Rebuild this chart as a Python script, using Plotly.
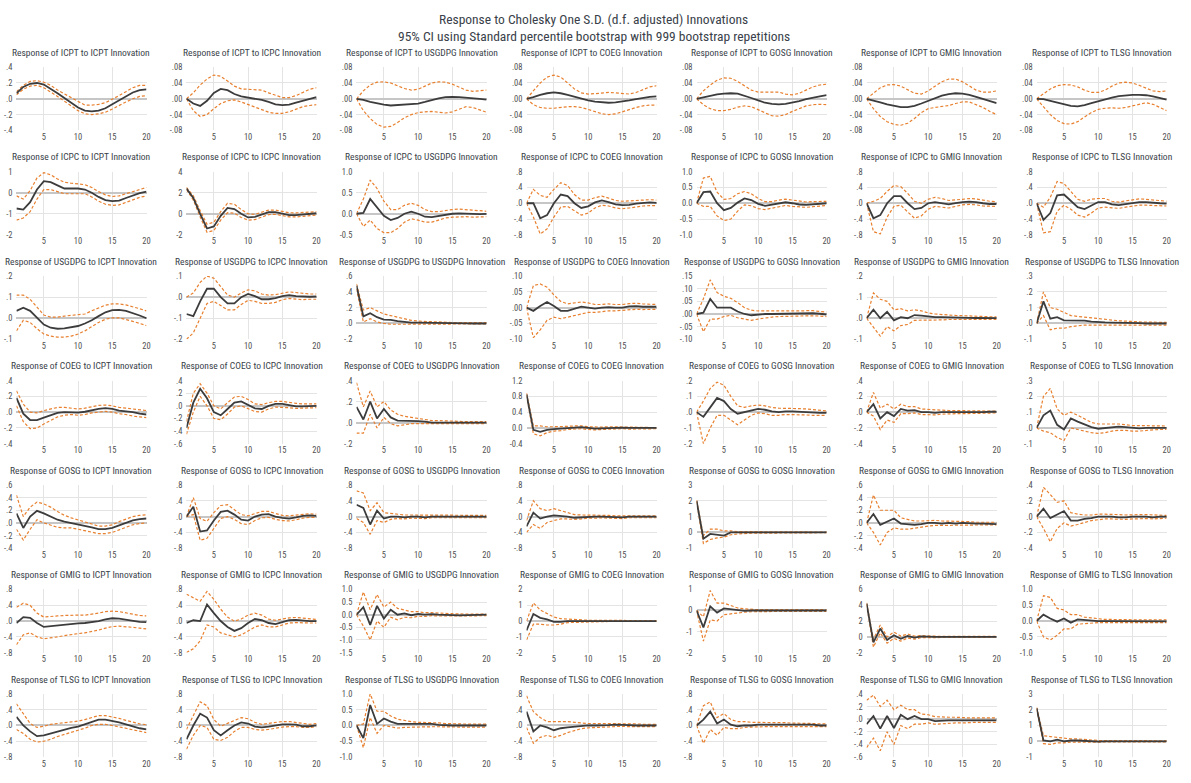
import plotly.graph_objects as go

W, H = 1191, 783
VARS = ["ICPT", "ICPC", "USGDPG", "COEG", "GOSG", "GMIG", "TLSG"]
PERIODS = list(range(1, 21))

# ---- Impulse responses (row = responding variable, one list per shock) ----
resp_ICPT = [
    [0.07, 0.15, 0.19, 0.20, 0.18, 0.13, 0.07, 0.01, -0.05, -0.11, -0.15, -0.16, -0.15, -0.12, -0.07, -0.02, 0.03, 0.08, 0.11, 0.12],
    [0, -0.012, -0.018, -0.005, 0.015, 0.025, 0.022, 0.012, 0.006, 0.003, 0.0, -0.003, -0.008, -0.014, -0.016, -0.015, -0.01, -0.005, -0.001, 0.004],
    [0, -0.003, -0.008, -0.012, -0.015, -0.017, -0.016, -0.015, -0.014, -0.012, -0.008, -0.003, 0.001, 0.004, 0.005, 0.004, 0.003, 0.002, 0.0, -0.002],
    [0, 0.004, 0.01, 0.014, 0.016, 0.014, 0.01, 0.005, 0.0, -0.004, -0.007, -0.009, -0.01, -0.009, -0.007, -0.004, -0.001, 0.002, 0.005, 0.006],
    [0, 0.004, 0.008, 0.011, 0.013, 0.014, 0.013, 0.008, 0.002, -0.004, -0.01, -0.013, -0.014, -0.013, -0.01, -0.006, -0.001, 0.003, 0.006, 0.009],
    [0, -0.004, -0.009, -0.014, -0.018, -0.021, -0.021, -0.018, -0.012, -0.005, 0.002, 0.008, 0.012, 0.014, 0.013, 0.01, 0.005, 0.0, -0.006, -0.011],
    [0, -0.001, -0.005, -0.01, -0.015, -0.018, -0.019, -0.016, -0.011, -0.006, -0.001, 0.003, 0.007, 0.009, 0.01, 0.01, 0.009, 0.006, 0.002, -0.002],
]
upper_ICPT = [
    [0.09, 0.17, 0.22, 0.23, 0.21, 0.17, 0.11, 0.06, 0.01, -0.04, -0.08, -0.08, -0.07, -0.05, -0.01, 0.04, 0.09, 0.14, 0.17, 0.17],
    [0, 0.015, 0.035, 0.05, 0.06, 0.057, 0.045, 0.032, 0.025, 0.024, 0.024, 0.022, 0.015, 0.008, 0.003, 0.003, 0.008, 0.016, 0.024, 0.028],
    [0, 0.02, 0.035, 0.042, 0.043, 0.04, 0.033, 0.026, 0.022, 0.024, 0.032, 0.04, 0.043, 0.042, 0.037, 0.029, 0.022, 0.019, 0.02, 0.022],
    [0, 0.02, 0.04, 0.055, 0.06, 0.055, 0.04, 0.025, 0.015, 0.012, 0.013, 0.015, 0.016, 0.015, 0.013, 0.012, 0.016, 0.024, 0.03, 0.033],
    [0, 0.02, 0.035, 0.047, 0.053, 0.052, 0.044, 0.032, 0.022, 0.017, 0.017, 0.018, 0.017, 0.012, 0.01, 0.014, 0.022, 0.03, 0.035, 0.037],
    [0, 0.015, 0.028, 0.035, 0.036, 0.032, 0.023, 0.014, 0.012, 0.02, 0.032, 0.043, 0.05, 0.05, 0.043, 0.032, 0.022, 0.017, 0.017, 0.02],
    [0, 0.012, 0.025, 0.033, 0.036, 0.035, 0.03, 0.022, 0.016, 0.016, 0.022, 0.032, 0.04, 0.042, 0.04, 0.034, 0.026, 0.02, 0.018, 0.02],
]
lower_ICPT = [
    [0.05, 0.12, 0.16, 0.17, 0.14, 0.09, 0.03, -0.03, -0.09, -0.15, -0.19, -0.20, -0.19, -0.17, -0.13, -0.08, -0.04, 0.0, 0.03, 0.04],
    [0, -0.03, -0.045, -0.04, -0.025, -0.012, -0.005, -0.003, -0.008, -0.015, -0.022, -0.028, -0.034, -0.037, -0.037, -0.033, -0.026, -0.02, -0.017, -0.015],
    [0, -0.03, -0.05, -0.065, -0.072, -0.07, -0.06, -0.048, -0.04, -0.035, -0.033, -0.032, -0.034, -0.036, -0.033, -0.026, -0.02, -0.022, -0.028, -0.034],
    [0, -0.015, -0.022, -0.024, -0.024, -0.022, -0.02, -0.02, -0.022, -0.027, -0.033, -0.038, -0.04, -0.038, -0.033, -0.027, -0.022, -0.018, -0.016, -0.016],
    [0, -0.015, -0.025, -0.03, -0.03, -0.027, -0.021, -0.018, -0.02, -0.027, -0.036, -0.043, -0.044, -0.04, -0.032, -0.025, -0.018, -0.015, -0.014, -0.015],
    [0, -0.025, -0.045, -0.058, -0.065, -0.067, -0.062, -0.05, -0.035, -0.025, -0.022, -0.02, -0.017, -0.012, -0.008, -0.008, -0.014, -0.022, -0.032, -0.04],
    [0, -0.02, -0.04, -0.055, -0.063, -0.064, -0.058, -0.046, -0.035, -0.027, -0.024, -0.023, -0.024, -0.022, -0.018, -0.013, -0.01, -0.014, -0.022, -0.03],
]
yticks_ICPT = [
    ["-.4", "-.2", ".0", ".2", ".4"],
    ["-.08", "-.04", ".00", ".04", ".08"],
    ["-.08", "-.04", ".00", ".04", ".08"],
    ["-.08", "-.04", ".00", ".04", ".08"],
    ["-.08", "-.04", ".00", ".04", ".08"],
    ["-.08", "-.04", ".00", ".04", ".08"],
    ["-.08", "-.04", ".00", ".04", ".08"],
]

resp_ICPC = [
    [-0.75, -0.8, -0.45, 0.15, 0.55, 0.5, 0.35, 0.2, 0.2, 0.2, 0.15, 0.0, -0.2, -0.35, -0.4, -0.38, -0.25, -0.12, -0.02, 0.05],
    [2.4, 1.5, 0.0, -1.4, -1.2, -0.2, 0.55, 0.45, 0.0, -0.35, -0.3, -0.05, 0.15, 0.15, 0.0, -0.12, -0.12, -0.05, 0.02, 0.05],
    [0, 0.02, 0.35, 0.15, -0.05, -0.15, -0.1, 0.0, 0.05, 0.0, -0.07, -0.08, -0.05, -0.02, 0.0, 0.01, 0.0, -0.01, -0.01, -0.005],
    [0, 0.0, -0.38, -0.3, 0.0, 0.22, 0.18, 0.0, -0.12, -0.08, 0.02, 0.07, 0.03, -0.03, -0.05, -0.04, -0.01, 0.01, 0.02, 0.01],
    [0, 0.35, 0.37, 0.0, -0.22, -0.15, 0.02, 0.15, 0.1, -0.02, -0.08, -0.05, 0.0, 0.03, 0.0, -0.04, -0.05, -0.03, -0.01, 0.0],
    [0, -0.38, -0.3, 0.0, 0.18, 0.18, 0.0, -0.15, -0.12, 0.0, 0.03, 0.0, -0.03, 0.0, 0.03, 0.04, 0.03, 0.0, -0.02, -0.02],
    [0, -0.42, -0.25, 0.2, 0.22, 0.05, -0.1, -0.15, -0.05, 0.03, 0.03, -0.03, -0.05, -0.02, 0.01, 0.03, 0.03, 0.01, 0.0, -0.01],
]
upper_ICPC = [
    [-0.15, -0.3, 0.1, 0.7, 0.95, 0.85, 0.65, 0.5, 0.45, 0.42, 0.38, 0.25, 0.05, -0.1, -0.18, -0.15, -0.05, 0.08, 0.18, 0.25],
    [2.5, 1.7, 0.3, -1.0, -0.8, 0.2, 1.0, 0.9, 0.4, 0.0, -0.05, 0.15, 0.35, 0.35, 0.2, 0.1, 0.08, 0.12, 0.18, 0.2],
    [0, 0.35, 0.8, 0.6, 0.3, 0.1, 0.1, 0.2, 0.25, 0.2, 0.1, 0.05, 0.05, 0.08, 0.1, 0.11, 0.1, 0.08, 0.07, 0.06],
    [0, 0.35, 0.2, 0.15, 0.35, 0.52, 0.45, 0.22, 0.08, 0.08, 0.14, 0.18, 0.13, 0.07, 0.05, 0.06, 0.08, 0.09, 0.09, 0.08],
    [0, 0.8, 0.85, 0.35, 0.12, 0.15, 0.3, 0.37, 0.3, 0.15, 0.05, 0.05, 0.1, 0.13, 0.1, 0.06, 0.04, 0.05, 0.06, 0.06],
    [0, 0.05, 0.12, 0.3, 0.45, 0.42, 0.25, 0.05, 0.0, 0.1, 0.15, 0.12, 0.07, 0.08, 0.1, 0.12, 0.11, 0.08, 0.05, 0.04],
    [0, -0.1, 0.15, 0.55, 0.5, 0.3, 0.1, 0.05, 0.1, 0.12, 0.12, 0.05, 0.03, 0.06, 0.09, 0.11, 0.1, 0.08, 0.06, 0.05],
]
lower_ICPC = [
    [-1.3, -1.2, -0.9, -0.3, 0.15, 0.15, 0.05, -0.05, -0.05, -0.05, -0.05, -0.2, -0.4, -0.55, -0.6, -0.58, -0.45, -0.32, -0.22, -0.15],
    [2.3, 1.3, -0.3, -1.75, -1.6, -0.6, 0.1, 0.05, -0.35, -0.6, -0.55, -0.3, -0.08, -0.05, -0.2, -0.3, -0.3, -0.22, -0.15, -0.12],
    [0, -0.3, -0.15, -0.35, -0.45, -0.45, -0.35, -0.2, -0.12, -0.15, -0.2, -0.2, -0.15, -0.1, -0.08, -0.07, -0.07, -0.08, -0.08, -0.07],
    [0, -0.35, -0.78, -0.65, -0.35, -0.1, -0.08, -0.2, -0.3, -0.25, -0.12, -0.05, -0.07, -0.12, -0.14, -0.12, -0.09, -0.07, -0.06, -0.06],
    [0, -0.1, -0.1, -0.4, -0.55, -0.5, -0.25, -0.05, -0.08, -0.17, -0.2, -0.16, -0.1, -0.07, -0.1, -0.12, -0.13, -0.11, -0.09, -0.07],
    [0, -0.72, -0.78, -0.35, -0.08, -0.05, -0.22, -0.38, -0.32, -0.15, -0.08, -0.1, -0.12, -0.08, -0.04, -0.03, -0.04, -0.07, -0.08, -0.08],
    [0, -0.75, -0.72, -0.2, -0.05, -0.15, -0.3, -0.35, -0.25, -0.12, -0.1, -0.12, -0.13, -0.1, -0.07, -0.05, -0.05, -0.06, -0.07, -0.07],
]
yticks_ICPC = [
    ["-2", "-1", "0", "1"],
    ["-2", "0", "2", "4"],
    ["-0.5", "0.0", "0.5", "1.0"],
    ["-.8", "-.4", ".0", ".4", ".8"],
    ["-1.0", "-0.5", "0.0", "0.5", "1.0"],
    ["-.8", "-.4", ".0", ".4", ".8"],
    ["-.8", "-.4", ".0", ".4", ".8"],
]

resp_USGDPG = [
    [0.035, 0.05, 0.035, 0.0, -0.03, -0.045, -0.05, -0.048, -0.043, -0.037, -0.025, -0.01, 0.01, 0.028, 0.038, 0.04, 0.035, 0.025, 0.013, 0.0],
    [-0.08, -0.09, -0.02, 0.04, 0.04, 0.0, -0.03, -0.03, 0.0, 0.015, 0.005, -0.01, -0.01, -0.005, 0.005, 0.01, 0.005, 0.002, 0.002, 0.003],
    [0.48, 0.09, 0.13, 0.08, 0.05, 0.045, 0.03, 0.02, 0.01, 0.01, 0.01, 0.008, 0.005, 0.003, 0.002, 0.002, 0.001, 0.0, 0.0, 0.0],
    [0.0, -0.01, 0.005, 0.018, 0.005, -0.01, -0.01, -0.003, 0.003, 0.0, -0.003, 0.0, 0.002, 0.0, 0.0, 0.004, 0.005, 0.003, 0.003, 0.003],
    [0.0, 0.005, 0.06, 0.025, 0.025, 0.025, 0.01, 0.0, -0.005, -0.002, 0.0, 0.0, 0.001, 0.0, 0.0, 0.002, 0.003, 0.003, 0.001, -0.002],
    [0.0, 0.04, 0.0, 0.03, -0.01, 0.005, 0.0, 0.015, 0.012, 0.008, 0.005, 0.005, 0.005, 0.003, 0.003, 0.002, 0.001, 0.0, 0.0, 0.0],
    [0.0, 0.14, 0.03, 0.04, 0.02, 0.02, 0.02, 0.018, 0.012, 0.008, 0.007, 0.006, 0.006, 0.005, 0.004, 0.002, 0.0, 0.0, 0.0, 0.0],
]
upper_USGDPG = [
    [0.11, 0.11, 0.09, 0.05, 0.015, 0.005, 0.005, 0.01, 0.013, 0.015, 0.02, 0.035, 0.05, 0.062, 0.068, 0.068, 0.063, 0.055, 0.045, 0.035],
    [0.0, 0.02, 0.07, 0.1, 0.09, 0.05, 0.01, 0.0, 0.02, 0.035, 0.03, 0.015, 0.01, 0.012, 0.02, 0.025, 0.022, 0.018, 0.015, 0.015],
    [0.5, 0.17, 0.2, 0.16, 0.12, 0.1, 0.08, 0.06, 0.04, 0.03, 0.025, 0.02, 0.018, 0.015, 0.012, 0.01, 0.01, 0.01, 0.01, 0.01],
    [0.0, 0.07, 0.075, 0.065, 0.04, 0.02, 0.012, 0.015, 0.018, 0.015, 0.01, 0.01, 0.012, 0.01, 0.01, 0.013, 0.014, 0.012, 0.011, 0.01],
    [0.0, 0.06, 0.135, 0.085, 0.07, 0.062, 0.045, 0.025, 0.015, 0.012, 0.012, 0.012, 0.012, 0.01, 0.01, 0.012, 0.013, 0.013, 0.01, 0.008],
    [0.0, 0.12, 0.09, 0.08, 0.04, 0.045, 0.035, 0.04, 0.035, 0.025, 0.02, 0.017, 0.015, 0.013, 0.012, 0.01, 0.008, 0.007, 0.007, 0.007],
    [0.0, 0.2, 0.1, 0.09, 0.07, 0.05, 0.045, 0.04, 0.033, 0.03, 0.025, 0.02, 0.017, 0.015, 0.012, 0.01, 0.008, 0.008, 0.007, 0.007],
]
lower_USGDPG = [
    [-0.06, -0.01, -0.02, -0.05, -0.075, -0.085, -0.09, -0.09, -0.085, -0.075, -0.06, -0.04, -0.02, -0.005, 0.002, 0.002, -0.005, -0.015, -0.025, -0.035],
    [-0.2, -0.17, -0.1, -0.03, -0.02, -0.04, -0.06, -0.06, -0.035, -0.015, -0.02, -0.03, -0.03, -0.025, -0.012, -0.006, -0.01, -0.012, -0.01, -0.01],
    [0.44, 0.02, 0.06, 0.02, 0.0, -0.01, -0.01, -0.01, -0.01, -0.008, -0.006, -0.005, -0.005, -0.005, -0.005, -0.005, -0.005, -0.005, -0.005, -0.005],
    [0.0, -0.095, -0.07, -0.04, -0.03, -0.035, -0.03, -0.025, -0.018, -0.015, -0.015, -0.012, -0.01, -0.01, -0.008, -0.005, -0.005, -0.006, -0.006, -0.005],
    [0.0, -0.07, -0.02, -0.02, -0.01, -0.005, -0.015, -0.02, -0.025, -0.02, -0.015, -0.012, -0.01, -0.01, -0.01, -0.008, -0.007, -0.007, -0.008, -0.01],
    [0.0, -0.04, -0.085, -0.04, -0.06, -0.035, -0.03, -0.01, -0.01, -0.01, -0.01, -0.008, -0.006, -0.006, -0.006, -0.006, -0.006, -0.006, -0.006, -0.006],
    [0.0, 0.05, -0.04, -0.03, -0.03, -0.02, -0.015, -0.01, -0.01, -0.01, -0.01, -0.01, -0.01, -0.01, -0.01, -0.012, -0.012, -0.012, -0.01, -0.01],
]
yticks_USGDPG = [
    ["-.1", ".0", ".1", ".2"],
    ["-.2", "-.1", ".0", ".1"],
    ["-.2", ".0", ".2", ".4", ".6"],
    ["-.10", "-.05", ".00", ".05", ".10"],
    ["-.10", "-.05", ".00", ".05", ".10", ".15"],
    ["-.1", ".0", ".1", ".2"],
    ["-.1", ".0", ".1", ".2", ".3"],
]

resp_COEG = [
    [0.18, -0.02, -0.1, -0.1, -0.07, -0.04, -0.01, 0.0, 0.0, -0.005, 0.005, 0.025, 0.04, 0.05, 0.04, 0.02, 0.01, 0.0, -0.02, -0.03],
    [-0.35, 0.05, 0.27, 0.12, -0.1, -0.15, -0.05, 0.05, 0.07, 0.02, -0.04, -0.05, 0.0, 0.03, 0.03, 0.01, -0.01, -0.01, 0.0, 0.0],
    [0.15, 0.03, 0.2, 0.04, 0.13, 0.05, 0.02, 0.02, 0.02, 0.015, 0.01, 0.0, 0.0, 0.0, 0.0, 0.0, 0.0, 0.0, 0.0, 0.0],
    [0.85, -0.05, -0.1, -0.05, -0.03, -0.02, 0.0, 0.01, 0.02, 0.0, -0.02, -0.01, 0.0, 0.01, 0.01, 0.0, -0.005, 0.0, 0.0, 0.0],
    [0.0, -0.03, 0.03, 0.09, 0.07, 0.02, -0.01, 0.0, 0.01, 0.02, 0.015, 0.005, 0.0, 0.005, 0.005, 0.002, 0.0, 0.0, -0.005, -0.005],
    [0.0, 0.1, -0.08, 0.0, -0.05, 0.04, 0.02, 0.025, 0.0, 0.0, -0.01, 0.0, 0.0, 0.0, 0.0, 0.0, -0.005, 0.0, 0.005, 0.005],
    [0.0, 0.08, 0.11, 0.02, -0.01, 0.06, 0.04, 0.02, 0.005, -0.005, 0.0, 0.005, 0.008, 0.005, 0.0, -0.003, 0.0, 0.0, 0.0, 0.0],
]
upper_COEG = [
    [0.27, 0.1, 0.0, -0.01, 0.02, 0.04, 0.06, 0.06, 0.05, 0.04, 0.05, 0.07, 0.085, 0.09, 0.08, 0.06, 0.05, 0.04, 0.03, 0.02],
    [-0.25, 0.2, 0.35, 0.2, 0.0, -0.05, 0.05, 0.14, 0.15, 0.1, 0.03, 0.02, 0.05, 0.07, 0.07, 0.05, 0.04, 0.03, 0.03, 0.03],
    [0.38, 0.15, 0.3, 0.15, 0.2, 0.12, 0.08, 0.06, 0.05, 0.04, 0.03, 0.02, 0.02, 0.015, 0.015, 0.012, 0.01, 0.01, 0.01, 0.01],
    [0.88, 0.05, 0.05, 0.03, 0.03, 0.03, 0.04, 0.05, 0.05, 0.03, 0.02, 0.02, 0.03, 0.03, 0.03, 0.02, 0.015, 0.015, 0.01, 0.01],
    [0.0, 0.07, 0.15, 0.19, 0.17, 0.1, 0.04, 0.03, 0.04, 0.045, 0.04, 0.03, 0.025, 0.025, 0.025, 0.022, 0.02, 0.015, 0.01, 0.008],
    [0.0, 0.25, 0.05, 0.1, 0.04, 0.1, 0.07, 0.07, 0.04, 0.035, 0.025, 0.025, 0.02, 0.02, 0.018, 0.015, 0.012, 0.012, 0.012, 0.012],
    [0.0, 0.2, 0.25, 0.12, 0.08, 0.1, 0.08, 0.06, 0.035, 0.025, 0.025, 0.025, 0.025, 0.02, 0.015, 0.015, 0.015, 0.015, 0.012, 0.012],
]
lower_COEG = [
    [0.08, -0.12, -0.21, -0.2, -0.15, -0.1, -0.06, -0.04, -0.03, -0.04, -0.03, -0.01, 0.0, 0.01, 0.0, -0.02, -0.03, -0.05, -0.06, -0.07],
    [-0.45, -0.1, 0.15, 0.0, -0.2, -0.22, -0.13, -0.02, 0.0, -0.04, -0.09, -0.1, -0.05, -0.02, -0.02, -0.03, -0.04, -0.04, -0.03, -0.03],
    [-0.1, -0.1, 0.08, -0.05, 0.05, -0.01, -0.03, -0.02, -0.01, -0.01, -0.01, -0.01, -0.01, -0.01, -0.01, -0.01, -0.01, -0.01, -0.01, -0.01],
    [0.82, -0.15, -0.2, -0.12, -0.08, -0.07, -0.04, -0.03, -0.02, -0.04, -0.05, -0.04, -0.03, -0.02, -0.02, -0.03, -0.03, -0.02, -0.02, -0.02],
    [0.0, -0.2, -0.1, -0.02, -0.02, -0.05, -0.08, -0.05, -0.02, -0.005, -0.01, -0.02, -0.02, -0.015, -0.015, -0.015, -0.018, -0.02, -0.02, -0.02],
    [0.0, -0.05, -0.22, -0.1, -0.13, -0.02, -0.02, -0.01, -0.03, -0.03, -0.035, -0.025, -0.02, -0.02, -0.02, -0.018, -0.02, -0.015, -0.01, -0.01],
    [0.0, -0.02, -0.03, -0.06, -0.08, 0.0, -0.01, -0.02, -0.03, -0.035, -0.03, -0.02, -0.015, -0.015, -0.02, -0.02, -0.015, -0.012, -0.01, -0.01],
]
yticks_COEG = [
    ["-.4", "-.2", ".0", ".2", ".4"],
    ["-.6", "-.4", "-.2", ".0", ".2", ".4"],
    ["-.2", ".0", ".2", ".4"],
    ["-0.4", "0.0", "0.4", "0.8", "1.2"],
    ["-.2", "-.1", ".0", ".1", ".2"],
    ["-.4", "-.2", ".0", ".2", ".4"],
    ["-.1", ".0", ".1", ".2", ".3"],
]

resp_GOSG = [
    [0.15, -0.08, 0.1, 0.19, 0.15, 0.1, 0.05, 0.02, 0.0, -0.02, -0.04, -0.07, -0.1, -0.1, -0.08, -0.04, 0.0, 0.04, 0.06, 0.07],
    [0.0, 0.25, -0.38, -0.35, -0.1, 0.12, 0.15, 0.05, -0.08, -0.1, 0.0, 0.05, 0.06, 0.0, -0.03, -0.05, -0.02, 0.02, 0.03, 0.02],
    [0.3, 0.22, -0.2, 0.15, -0.05, 0.0, 0.0, -0.02, 0.0, 0.0, -0.02, 0.0, 0.0, 0.0, 0.0, 0.0, 0.0, 0.0, 0.0, 0.0],
    [-0.25, 0.1, -0.05, 0.0, 0.03, 0.02, 0.0, -0.03, -0.02, 0.0, 0.0, 0.0, -0.01, -0.02, -0.02, 0.0, 0.0, 0.0, 0.0, 0.0],
    [2.0, -0.4, -0.1, -0.15, -0.2, 0.0, -0.02, 0.0, 0.0, 0.0, -0.02, 0.0, 0.0, 0.0, 0.0, 0.0, 0.0, 0.0, 0.0, 0.0],
    [0.0, 0.14, -0.03, 0.02, 0.07, -0.01, -0.02, -0.03, -0.02, 0.0, 0.0, -0.01, 0.0, -0.01, 0.0, -0.01, -0.01, -0.01, -0.01, -0.02],
    [0.0, 0.1, -0.02, 0.03, 0.07, -0.05, -0.05, -0.03, -0.02, 0.0, 0.0, 0.0, -0.01, -0.01, 0.0, 0.0, 0.0, -0.01, 0.0, 0.0],
]
upper_GOSG = [
    [0.44, 0.1, 0.25, 0.33, 0.3, 0.25, 0.18, 0.12, 0.08, 0.05, 0.02, -0.02, -0.05, -0.05, -0.03, 0.02, 0.06, 0.1, 0.12, 0.13],
    [0.0, 0.48, -0.05, -0.12, 0.1, 0.28, 0.3, 0.18, 0.05, 0.02, 0.08, 0.13, 0.13, 0.07, 0.03, 0.02, 0.04, 0.06, 0.07, 0.06],
    [0.65, 0.6, 0.15, 0.35, 0.1, 0.08, 0.06, 0.04, 0.04, 0.04, 0.03, 0.03, 0.03, 0.03, 0.03, 0.03, 0.03, 0.03, 0.03, 0.03],
    [-0.1, 0.4, 0.2, 0.15, 0.2, 0.15, 0.1, 0.05, 0.04, 0.04, 0.04, 0.03, 0.03, 0.02, 0.02, 0.03, 0.03, 0.03, 0.02, 0.02],
    [2.05, -0.2, 0.2, 0.2, 0.1, 0.1, 0.05, 0.05, 0.04, 0.03, 0.02, 0.02, 0.02, 0.02, 0.02, 0.02, 0.02, 0.02, 0.02, 0.02],
    [0.0, 0.44, 0.2, 0.2, 0.2, 0.08, 0.06, 0.03, 0.03, 0.04, 0.04, 0.03, 0.03, 0.02, 0.02, 0.02, 0.01, 0.01, 0.01, 0.01],
    [0.0, 0.37, 0.28, 0.18, 0.2, 0.05, 0.03, 0.02, 0.02, 0.03, 0.03, 0.03, 0.025, 0.02, 0.025, 0.025, 0.025, 0.02, 0.015, 0.015],
]
lower_GOSG = [
    [-0.1, -0.27, -0.1, 0.05, 0.0, -0.03, -0.07, -0.08, -0.08, -0.1, -0.12, -0.14, -0.17, -0.17, -0.15, -0.11, -0.07, -0.03, -0.01, 0.0],
    [0.0, 0.05, -0.6, -0.55, -0.3, -0.05, 0.0, -0.07, -0.18, -0.2, -0.1, -0.03, -0.02, -0.07, -0.1, -0.11, -0.08, -0.04, -0.02, -0.02],
    [-0.05, -0.15, -0.45, -0.1, -0.15, -0.07, -0.05, -0.06, -0.04, -0.04, -0.05, -0.03, -0.03, -0.03, -0.03, -0.03, -0.03, -0.03, -0.03, -0.03],
    [-0.4, -0.2, -0.3, -0.15, -0.1, -0.06, -0.06, -0.07, -0.06, -0.04, -0.04, -0.03, -0.04, -0.05, -0.05, -0.03, -0.03, -0.03, -0.03, -0.03],
    [1.95, -0.7, -0.45, -0.35, -0.3, -0.15, -0.1, -0.06, -0.05, -0.05, -0.05, -0.04, -0.03, -0.03, -0.03, -0.03, -0.03, -0.03, -0.02, -0.02],
    [0.0, -0.15, -0.35, -0.15, -0.08, -0.1, -0.1, -0.08, -0.06, -0.05, -0.04, -0.04, -0.035, -0.04, -0.03, -0.03, -0.03, -0.03, -0.03, -0.03],
    [0.0, -0.15, -0.32, -0.15, -0.08, -0.12, -0.1, -0.07, -0.05, -0.04, -0.03, -0.03, -0.035, -0.035, -0.03, -0.025, -0.025, -0.03, -0.025, -0.02],
]
yticks_GOSG = [
    ["-.4", "-.2", ".0", ".2", ".4", ".6"],
    ["-.8", "-.4", ".0", ".4", ".8"],
    ["-.8", "-.4", ".0", ".4", ".8"],
    ["-.8", "-.4", ".0", ".4", ".8"],
    ["-1", "0", "1", "2", "3"],
    ["-.4", "-.2", ".0", ".2", ".4", ".6"],
    ["-.4", "-.2", ".0", ".2", ".4"],
]

resp_GMIG = [
    [-0.05, 0.1, 0.08, -0.05, -0.15, -0.13, -0.11, -0.09, -0.07, -0.06, -0.05, -0.03, 0.0, 0.04, 0.07, 0.06, 0.03, 0.0, -0.02, -0.03],
    [-0.05, 0.02, 0.0, 0.42, 0.2, 0.0, -0.15, -0.25, -0.18, -0.05, 0.05, 0.02, -0.05, -0.08, -0.03, 0.02, 0.03, 0.01, 0.0, 0.0],
    [0.0, 0.3, -0.4, 0.35, -0.15, 0.2, 0.0, 0.05, -0.02, 0.03, 0.0, 0.02, 0.0, 0.0, -0.02, -0.03, -0.02, -0.02, 0.0, 0.0],
    [-0.6, 0.45, 0.2, 0.1, -0.05, -0.05, 0.0, -0.02, 0.0, 0.0, 0.0, 0.0, 0.0, 0.0, 0.0, 0.0, 0.0, 0.0, 0.0, 0.0],
    [0.0, -0.8, 0.2, -0.1, 0.1, 0.05, 0.0, -0.02, 0.0, 0.0, 0.0, 0.0, 0.0, 0.0, 0.0, 0.0, 0.0, 0.0, 0.0, 0.0],
    [4.2, -0.7, 1.05, -0.4, 0.2, -0.25, 0.1, -0.1, 0.05, 0.0, 0.0, 0.0, 0.0, 0.0, 0.0, 0.0, 0.0, 0.0, 0.0, 0.0],
    [0.0, 0.2, 0.08, -0.02, 0.08, -0.05, 0.05, 0.03, 0.02, 0.0, 0.0, 0.0, 0.0, 0.0, 0.0, 0.0, 0.0, 0.0, -0.01, -0.01],
]
upper_GMIG = [
    [0.35, 0.45, 0.4, 0.2, 0.1, 0.12, 0.13, 0.14, 0.15, 0.15, 0.15, 0.17, 0.2, 0.24, 0.25, 0.24, 0.21, 0.17, 0.14, 0.13],
    [0.68, 0.6, 0.5, 0.75, 0.55, 0.3, 0.1, 0.0, 0.05, 0.15, 0.2, 0.15, 0.05, 0.02, 0.05, 0.08, 0.09, 0.07, 0.05, 0.04],
    [0.0, 0.9, 0.2, 0.8, 0.3, 0.5, 0.25, 0.2, 0.12, 0.12, 0.08, 0.08, 0.06, 0.05, 0.04, 0.03, 0.03, 0.02, 0.02, 0.02],
    [0.0, 1.15, 0.7, 0.5, 0.25, 0.15, 0.12, 0.08, 0.06, 0.05, 0.04, 0.04, 0.03, 0.03, 0.03, 0.03, 0.03, 0.03, 0.03, 0.03],
    [0.0, -0.3, 0.95, 0.35, 0.35, 0.25, 0.12, 0.08, 0.05, 0.04, 0.04, 0.04, 0.04, 0.04, 0.04, 0.04, 0.04, 0.04, 0.04, 0.04],
    [4.3, -0.3, 1.5, 0.0, 0.6, 0.1, 0.35, 0.1, 0.15, 0.1, 0.08, 0.05, 0.05, 0.05, 0.05, 0.05, 0.05, 0.05, 0.05, 0.05],
    [0.0, 0.8, 0.75, 0.4, 0.35, 0.2, 0.2, 0.12, 0.1, 0.07, 0.05, 0.05, 0.04, 0.04, 0.04, 0.04, 0.04, 0.04, 0.04, 0.04],
]
lower_GMIG = [
    [-0.6, -0.35, -0.3, -0.4, -0.45, -0.43, -0.4, -0.37, -0.34, -0.32, -0.3, -0.27, -0.23, -0.18, -0.14, -0.13, -0.14, -0.16, -0.18, -0.2],
    [-0.8, -0.7, -0.5, -0.1, -0.15, -0.3, -0.35, -0.4, -0.35, -0.25, -0.15, -0.1, -0.15, -0.15, -0.1, -0.05, -0.04, -0.05, -0.05, -0.05],
    [0.0, -0.45, -1.0, -0.25, -0.5, -0.1, -0.2, -0.1, -0.12, -0.06, -0.07, -0.04, -0.05, -0.05, -0.06, -0.07, -0.06, -0.05, -0.04, -0.04],
    [-1.2, -0.2, -0.2, -0.25, -0.25, -0.2, -0.1, -0.08, -0.06, -0.05, -0.04, -0.04, -0.03, -0.03, -0.03, -0.03, -0.03, -0.03, -0.03, -0.03],
    [0.0, -1.45, -0.45, -0.5, -0.2, -0.15, -0.1, -0.08, -0.06, -0.05, -0.04, -0.04, -0.04, -0.04, -0.04, -0.04, -0.04, -0.04, -0.04, -0.04],
    [4.1, -1.3, 0.5, -0.8, -0.2, -0.55, -0.15, -0.3, -0.1, -0.1, -0.08, -0.05, -0.05, -0.05, -0.05, -0.05, -0.05, -0.05, -0.05, -0.05],
    [0.0, -0.5, -0.6, -0.45, -0.25, -0.25, -0.1, -0.08, -0.06, -0.05, -0.05, -0.05, -0.05, -0.05, -0.05, -0.05, -0.05, -0.05, -0.05, -0.05],
]
yticks_GMIG = [
    ["-.8", "-.4", ".0", ".4", ".8"],
    ["-.8", "-.4", ".0", ".4", ".8"],
    ["-1.5", "-1.0", "-0.5", "0.0", "0.5", "1.0"],
    ["-2", "-1", "0", "1", "2"],
    ["-2", "-1", "0", "1"],
    ["-2", "0", "2", "4", "6"],
    ["-1.0", "-0.5", "0.0", "0.5", "1.0"],
]

resp_TLSG = [
    [0.22, 0.0, -0.15, -0.27, -0.25, -0.2, -0.15, -0.1, -0.06, -0.03, 0.03, 0.1, 0.15, 0.15, 0.12, 0.08, 0.03, -0.02, -0.07, -0.1],
    [-0.35, 0.0, 0.3, 0.2, -0.12, -0.25, -0.12, 0.0, 0.08, 0.05, -0.03, -0.05, -0.03, 0.0, 0.03, 0.03, 0.02, -0.02, -0.02, 0.0],
    [0.0, -0.4, 0.65, 0.05, 0.22, 0.12, 0.05, 0.05, 0.05, 0.05, 0.05, 0.05, 0.02, 0.0, 0.0, 0.0, 0.0, 0.0, 0.0, 0.0],
    [0.35, -0.15, 0.0, -0.05, -0.12, -0.07, -0.05, -0.03, -0.02, 0.0, 0.0, 0.0, 0.01, 0.02, 0.02, 0.01, 0.0, 0.0, 0.0, 0.0],
    [0.0, 0.15, 0.35, 0.05, 0.15, 0.02, -0.02, 0.0, 0.0, 0.02, 0.02, 0.02, 0.02, 0.02, 0.02, 0.02, 0.02, 0.02, 0.0, 0.0],
    [-0.08, 0.05, -0.15, 0.05, -0.14, 0.07, 0.0, 0.05, 0.0, 0.0, -0.03, -0.02, -0.02, -0.02, -0.02, -0.02, -0.02, -0.02, -0.02, -0.02],
    [2.1, 0.05, 0.0, 0.1, 0.0, 0.05, 0.05, 0.02, 0.0, -0.02, 0.0, 0.0, 0.0, 0.0, 0.0, 0.0, 0.0, 0.0, 0.0, 0.0],
]
upper_TLSG = [
    [0.55, 0.3, 0.05, -0.05, -0.02, 0.03, 0.05, 0.07, 0.08, 0.11, 0.15, 0.2, 0.25, 0.25, 0.22, 0.18, 0.13, 0.08, 0.04, 0.02],
    [-0.1, 0.25, 0.6, 0.5, 0.15, -0.02, 0.05, 0.12, 0.2, 0.17, 0.08, 0.03, 0.05, 0.08, 0.1, 0.1, 0.08, 0.05, 0.03, 0.05],
    [0.0, 0.05, 1.0, 0.45, 0.45, 0.3, 0.2, 0.15, 0.12, 0.1, 0.1, 0.1, 0.08, 0.06, 0.05, 0.05, 0.05, 0.04, 0.04, 0.04],
    [0.75, 0.35, 0.2, 0.1, 0.1, 0.1, 0.1, 0.08, 0.06, 0.05, 0.05, 0.05, 0.05, 0.05, 0.05, 0.04, 0.04, 0.03, 0.03, 0.03],
    [0.0, 0.5, 0.6, 0.2, 0.3, 0.15, 0.1, 0.1, 0.08, 0.08, 0.07, 0.07, 0.07, 0.07, 0.06, 0.06, 0.05, 0.05, 0.04, 0.04],
    [0.3, 0.38, 0.2, 0.3, 0.15, 0.22, 0.15, 0.15, 0.08, 0.07, 0.04, 0.03, 0.03, 0.03, 0.02, 0.02, 0.02, 0.02, 0.02, 0.02],
    [2.15, 0.35, 0.3, 0.25, 0.2, 0.15, 0.15, 0.1, 0.08, 0.05, 0.05, 0.05, 0.04, 0.04, 0.04, 0.03, 0.03, 0.03, 0.03, 0.03],
]
lower_TLSG = [
    [-0.1, -0.2, -0.35, -0.42, -0.4, -0.35, -0.28, -0.22, -0.17, -0.12, -0.07, 0.0, 0.03, 0.03, 0.0, -0.03, -0.07, -0.11, -0.15, -0.18],
    [-0.6, -0.25, 0.0, -0.05, -0.35, -0.38, -0.3, -0.15, -0.05, -0.05, -0.1, -0.12, -0.1, -0.07, -0.04, -0.03, -0.03, -0.05, -0.05, -0.03],
    [0.0, -0.7, 0.25, -0.25, 0.0, -0.05, -0.08, -0.06, -0.05, -0.05, -0.04, -0.04, -0.04, -0.05, -0.05, -0.05, -0.05, -0.05, -0.05, -0.05],
    [-0.05, -0.45, -0.3, -0.25, -0.3, -0.25, -0.18, -0.12, -0.08, -0.06, -0.05, -0.04, -0.03, -0.02, -0.02, -0.03, -0.03, -0.03, -0.03, -0.03],
    [0.0, -0.45, -0.1, -0.25, -0.05, -0.08, -0.08, -0.05, -0.04, -0.03, -0.03, -0.03, -0.03, -0.03, -0.03, -0.03, -0.03, -0.03, -0.03, -0.03],
    [-0.45, -0.3, -0.5, -0.2, -0.4, -0.1, -0.15, -0.08, -0.08, -0.06, -0.08, -0.07, -0.06, -0.06, -0.06, -0.05, -0.05, -0.05, -0.05, -0.05],
    [2.05, -0.15, -0.2, -0.1, -0.1, -0.05, -0.05, -0.05, -0.05, -0.06, -0.05, -0.05, -0.04, -0.04, -0.04, -0.04, -0.04, -0.04, -0.04, -0.04],
]
yticks_TLSG = [
    ["-.8", "-.4", ".0", ".4", ".8"],
    ["-.8", "-.4", ".0", ".4", ".8"],
    ["-1.0", "-0.5", "0.0", "0.5", "1.0"],
    ["-.8", "-.4", ".0", ".4", ".8"],
    ["-.8", "-.4", ".0", ".4", ".8"],
    ["-.6", "-.4", "-.2", ".0", ".2", ".4"],
    ["-1", "0", "1", "2", "3"],
]

XTICKS = [5, 10, 15, 20]

RESP = [resp_ICPT, resp_ICPC, resp_USGDPG, resp_COEG, resp_GOSG, resp_GMIG, resp_TLSG]
UPPER = [upper_ICPT, upper_ICPC, upper_USGDPG, upper_COEG, upper_GOSG, upper_GMIG, upper_TLSG]
LOWER = [lower_ICPT, lower_ICPC, lower_USGDPG, lower_COEG, lower_GOSG, lower_GMIG, lower_TLSG]
YTICKS = [yticks_ICPT, yticks_ICPC, yticks_USGDPG, yticks_COEG, yticks_GOSG, yticks_GMIG, yticks_TLSG]

# ---- styling / panel geometry (pixels) ----
FONT = "Liberation Sans Narrow, Arial Narrow, Roboto Condensed, Liberation Sans, Arial, sans-serif"
TEXT_COLOR = "#3a3f4a"
TICK_COLOR = "#505050"
ORANGE = "#E8802F"
LINE_COLOR = "#3c3c3c"
GRID = "#e4e4e4"
ZERO = "#c6c6c6"

COL_PITCH = 170.6
PLOT_LEFT = 16.5
PLOT_W = 130.5
ROW_PITCH = 105.8
TITLE_Y0 = 48
PLOT_TOP_OFF = 15
PLOT_H = 64

fig = go.Figure()
layout = {}
annotations = []

for r in range(7):
    for c in range(7):
        k = r * 7 + c + 1
        xs = "" if k == 1 else str(k)
        xname, yname = "x" + xs, "y" + xs

        upper = UPPER[r][c]
        lower = LOWER[r][c]
        resp = RESP[r][c]

        for series, dashed in ((upper, True), (lower, True), (resp, False)):
            fig.add_trace(go.Scatter(
                x=PERIODS, y=series, xaxis=xname, yaxis=yname, mode="lines",
                line=dict(color=ORANGE if dashed else LINE_COLOR,
                          width=1.2 if dashed else 1.8,
                          dash="3px,2px" if dashed else "solid"),
                hoverinfo="skip", showlegend=False,
            ))

        labels = YTICKS[r][c]
        vals = [float(s) for s in labels]
        lo, hi = min(vals), max(vals)
        pad = (hi - lo) * 1e-6

        x0 = PLOT_LEFT + COL_PITCH * c
        x1 = x0 + PLOT_W
        title_y = TITLE_Y0 + ROW_PITCH * r
        top = title_y + PLOT_TOP_OFF
        bottom = top + PLOT_H

        layout["xaxis" + xs] = dict(
            domain=[x0 / W, x1 / W], anchor=yname, range=[1, 20],
            tickmode="array", tickvals=XTICKS, ticktext=[str(v) for v in XTICKS],
            showgrid=True, gridcolor=GRID, gridwidth=1, zeroline=False,
            showline=False, ticks="", tickfont=dict(family=FONT, size=8.5, color=TICK_COLOR),
            fixedrange=True,
        )
        inner = [v for v in vals if v not in (lo, hi) and v != 0]
        layout["yaxis" + xs] = dict(
            domain=[1 - bottom / H, 1 - top / H], anchor=xname,
            range=[lo - pad, hi + pad],
            tickmode="array", tickvals=vals, ticktext=labels,
            showgrid=False, zeroline=True, zerolinecolor=ZERO, zerolinewidth=2,
            minor=dict(tickmode="array", tickvals=inner, showgrid=True,
                       gridcolor=GRID, gridwidth=1, ticks=""),
            showline=False, ticks="", ticklabelstandoff=3,
            tickfont=dict(family=FONT, size=8.5, color=TICK_COLOR),
            fixedrange=True,
        )
        annotations.append(dict(
            text=f"Response of {VARS[r]} to {VARS[c]} Innovation",
            xref="paper", yref="paper", x=(x0 + x1) / 2 / W, y=1 - title_y / H,
            xanchor="center", yanchor="middle", showarrow=False,
            font=dict(family=FONT, size=9.5, color=TEXT_COLOR),
        ))

annotations.append(dict(
    text="Response to Cholesky One S.D. (d.f. adjusted) Innovations",
    xref="paper", yref="paper", x=596 / W, y=1 - 14 / H, xanchor="center", yanchor="middle",
    showarrow=False, font=dict(family=FONT, size=13.5, color=TEXT_COLOR),
))
annotations.append(dict(
    text="95% CI using Standard percentile bootstrap with 999 bootstrap repetitions",
    xref="paper", yref="paper", x=596 / W, y=1 - 31 / H, xanchor="center", yanchor="middle",
    showarrow=False, font=dict(family=FONT, size=13.5, color=TEXT_COLOR),
))

fig.update_layout(
    width=W, height=H, margin=dict(l=0, r=0, t=0, b=0),
    paper_bgcolor="white", plot_bgcolor="white",
    annotations=annotations, showlegend=False, **layout,
)

fig.write_html("out.html", config={"displayModeBar": False})
